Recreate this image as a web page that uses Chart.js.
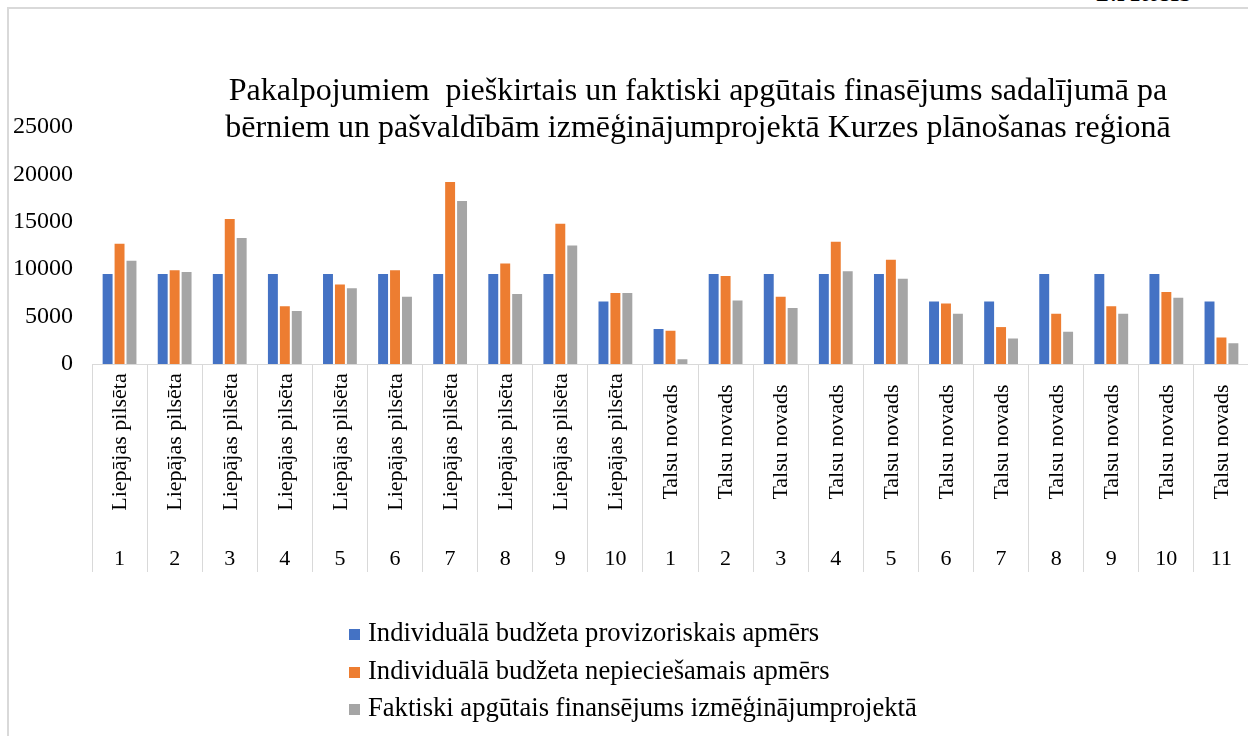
<!DOCTYPE html>
<html lang="lv">
<head>
<meta charset="utf-8">
<title>Pakalpojumiem piešķirtais un faktiski apgūtais finansējums</title>
<script src="https://cdn.jsdelivr.net/npm/chart.js@4/dist/chart.umd.min.js"></script>
<style>
    html, body {
        margin: 0;
        padding: 0;
        width: 1248px;
        height: 736px;
        overflow: hidden;
        background: #fff;
        font-family: "Liberation Serif", "DejaVu Serif", serif;
    }
    #frameTop {
        position: absolute;
        left: 8px;
        top: 7px;
        width: 1240px;
        height: 2px;
        background: #d9d9d9;
    }
    #frameLeft {
        position: absolute;
        left: 7px;
        top: 7px;
        width: 2px;
        height: 729px;
        background: #d9d9d9;
    }
    #figureCaption {
        position: absolute;
        left: 1094px;
        top: -27px;
        font-size: 31px;
        color: #000;
    }
    #chartCanvas {
        position: absolute;
        left: 0;
        top: 0;
    }
    #legend {
        position: absolute;
        left: 349px;
        top: 614px;
        font-size: 26.6px;
        line-height: 37.5px;
        color: #000;
    }
    .legend-item {
        white-space: nowrap;
    }
    .legend-box {
        display: inline-block;
        width: 11px;
        height: 11px;
        margin-right: 8px;
        vertical-align: 1px;
    }
</style>
</head>
<body>
<div id="frameTop"></div>
<div id="frameLeft"></div>
<div id="figureCaption">1.Attēls</div>
<canvas id="chartCanvas" width="1396" height="736"></canvas>
<div id="legend"></div>

<script>
// Chart data
const titleLines = [
    'Pakalpojumiem  pieškirtais un faktiski apgūtais finasējums sadalījumā pa',
    'bērniem un pašvaldībām izmēģinājumprojektā Kurzes plānošanas reģionā'
];

const categoryGroups = [
    'Liepājas pilsēta', 'Liepājas pilsēta', 'Liepājas pilsēta', 'Liepājas pilsēta', 'Liepājas pilsēta',
    'Liepājas pilsēta', 'Liepājas pilsēta', 'Liepājas pilsēta', 'Liepājas pilsēta', 'Liepājas pilsēta',
    'Talsu novads', 'Talsu novads', 'Talsu novads', 'Talsu novads', 'Talsu novads', 'Talsu novads',
    'Talsu novads', 'Talsu novads', 'Talsu novads', 'Talsu novads', 'Talsu novads'
];

const categoryNumbers = [
    '1', '2', '3', '4', '5', '6', '7', '8', '9', '10',
    '1', '2', '3', '4', '5', '6', '7', '8', '9', '10', '11'
];

const seriesNames = [
    'Individuālā budžeta provizoriskais apmērs',
    'Individuālā budžeta nepieciešamais apmērs',
    'Faktiski apgūtais finansējums izmēģinājumprojektā'
];

const provisionalBudget = [
    9600, 9600, 9600, 9600, 9600, 9600, 9600, 9600, 9600, 6700,
    3800, 9600, 9600, 9600, 9600, 6700, 6700, 9600, 9600, 9600, 6700
];

const requiredBudget = [
    12800, 10000, 15400, 6200, 8500, 10000, 19300, 10700, 14900, 7600,
    3600, 9400, 7200, 13000, 11100, 6500, 4000, 5400, 6200, 7700, 2900
];

const actualFunding = [
    11000, 9800, 13400, 5700, 8100, 7200, 17300, 7500, 12600, 7600,
    600, 6800, 6000, 9900, 9100, 5400, 2800, 3500, 5400, 7100, 2300
];

const yTicks = [0, 5000, 10000, 15000, 20000, 25000];

const seriesColors = ['#4472C4', '#ED7D31', '#A5A5A5'];

const serifFont = '"Liberation Serif", "Times New Roman", serif';

/**
 * Title drawn centred on the whole chart box (which runs past the right edge)
 */
const chartTitlePlugin = {
    id: 'chartTitle',
    afterDraw(chart) {
        const ctx = chart.ctx;
        ctx.save();
        ctx.fillStyle = '#000';
        ctx.font = '32px ' + serifFont;
        ctx.textAlign = 'center';
        ctx.textBaseline = 'middle';
        titleLines.forEach((line, i) => {
            ctx.fillText(line, chart.width / 2, 92 + i * 37);
        });
        ctx.restore();
    }
};

/**
 * Draws the two-level category labels (rotated name + number) under the axis
 */
const categoryLabelsPlugin = {
    id: 'categoryLabels',
    afterDraw(chart) {
        const xScale = chart.scales.x;
        const ctx = chart.ctx;
        ctx.save();
        ctx.fillStyle = '#000';
        ctx.font = '22px ' + serifFont;
        ctx.textAlign = 'center';
        ctx.textBaseline = 'middle';
        categoryNumbers.forEach((num, i) => {
            const x = xScale.getPixelForValue(i);
            ctx.fillText(num, x, xScale.bottom - 13);

            ctx.save();
            ctx.translate(x + 1, xScale.top + 78);
            ctx.rotate(-Math.PI / 2);
            ctx.fillText(categoryGroups[i], 0, 0);
            ctx.restore();
        });
        ctx.restore();
    }
};

const datasets = [provisionalBudget, requiredBudget, actualFunding].map((values, i) => ({
    label: seriesNames[i],
    data: values,
    backgroundColor: seriesColors[i],
    borderColor: '#ffffff',
    borderWidth: 1,
    borderSkipped: 'start',
    categoryPercentage: 0.65,
    barPercentage: 1.0
}));

const ctx = document.getElementById('chartCanvas').getContext('2d');
const chart = new Chart(ctx, {
    type: 'bar',
    data: {
        labels: categoryNumbers,
        datasets: datasets
    },
    options: {
        responsive: false,
        animation: false,
        layout: {
            padding: { left: 0, right: 147, top: 127, bottom: 164 }
        },
        plugins: {
            legend: { display: false },
            tooltip: { enabled: false },
            title: { display: false }
        },
        scales: {
            x: {
                offset: true,
                grid: {
                    display: true,
                    offset: true,
                    drawOnChartArea: false,
                    drawTicks: true,
                    tickLength: 208,
                    tickColor: '#d9d9d9',
                    color: '#d9d9d9'
                },
                border: { display: true, color: '#d9d9d9', width: 1 },
                ticks: { display: false }
            },
            y: {
                min: 0,
                max: 25000,
                afterFit(scale) {
                    scale.width = 92;
                },
                afterBuildTicks(scale) {
                    scale.ticks = yTicks.map(v => ({ value: v }));
                },
                grid: { display: false },
                border: { display: false },
                ticks: {
                    color: '#000',
                    padding: 11,
                    font: { family: serifFont, size: 24 },
                    callback: value => String(value)
                }
            }
        }
    },
    plugins: [chartTitlePlugin, categoryLabelsPlugin]
});

// Legend as a vertical list, built from the chart's datasets
const legendEl = document.getElementById('legend');
chart.data.datasets.forEach(ds => {
    const item = document.createElement('div');
    item.className = 'legend-item';
    const box = document.createElement('span');
    box.className = 'legend-box';
    box.style.background = ds.backgroundColor;
    item.appendChild(box);
    item.appendChild(document.createTextNode(ds.label));
    legendEl.appendChild(item);
});
</script>
</body>
</html>
